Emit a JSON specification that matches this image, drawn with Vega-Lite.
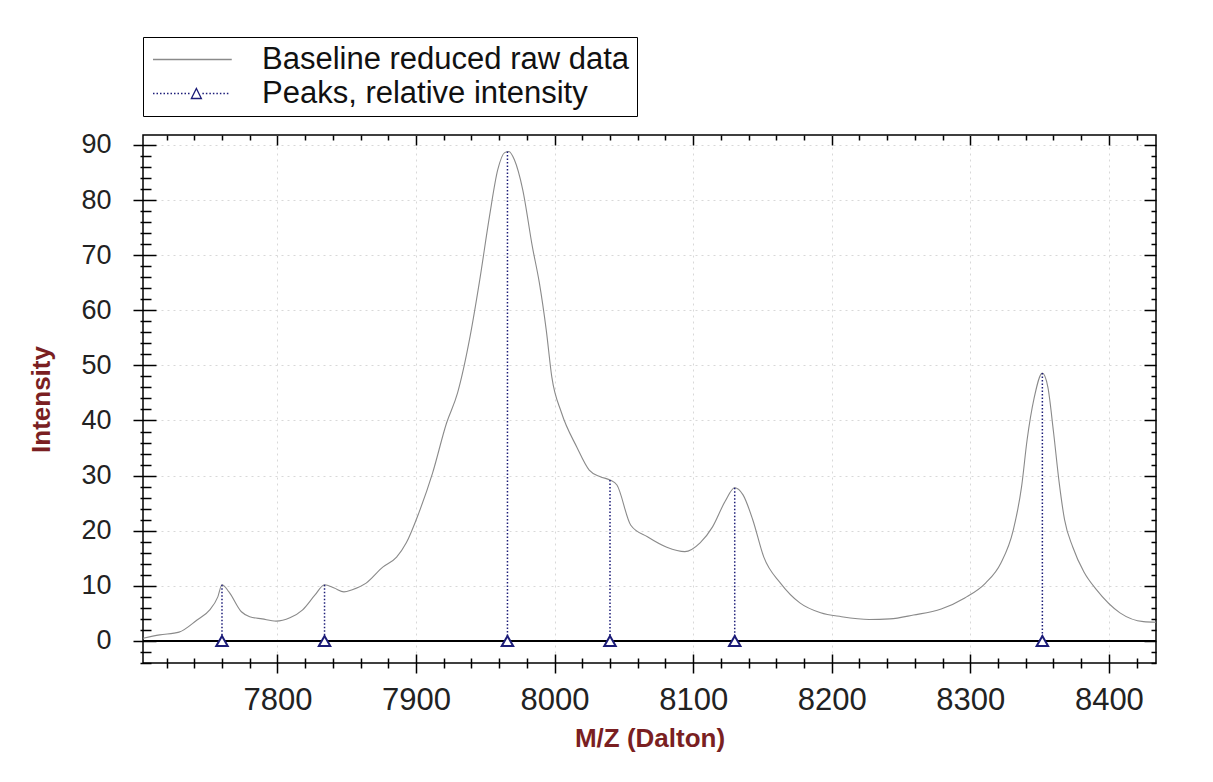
{
  "$schema": "https://vega.github.io/schema/vega-lite/v6.json",
  "width": 1013,
  "height": 528,
  "autosize": {"type": "none"},
  "padding": {"left": 143, "top": 135, "right": 57, "bottom": 119},
  "background": "white",
  "config": {
    "view": {"stroke": "black", "strokeWidth": 1.5},
    "axis": {"domain": false, "labelFont": "Liberation Sans", "labelColor": "#222", "tickColor": "black", "tickWidth": 1.5, "titleFont": "Liberation Sans", "titleColor": "#7a1f22", "titleFontWeight": "bold", "grid": false},
    "legend": {"labelFont": "Liberation Sans", "labelFontSize": 31, "labelColor": "#111"}
  },
  "datasets": {
    "spectrum": [
      {"mz": 7703, "intensity": 0.5}, {"mz": 7715, "intensity": 1.1}, {"mz": 7729, "intensity": 1.6},
      {"mz": 7742, "intensity": 3.8}, {"mz": 7751, "intensity": 5.6}, {"mz": 7757, "intensity": 8.0},
      {"mz": 7760, "intensity": 10.2}, {"mz": 7765, "intensity": 8.9}, {"mz": 7774, "intensity": 5.3},
      {"mz": 7780, "intensity": 4.4}, {"mz": 7789, "intensity": 4.0}, {"mz": 7799, "intensity": 3.6},
      {"mz": 7809, "intensity": 4.2}, {"mz": 7818, "intensity": 5.6}, {"mz": 7827, "intensity": 8.3},
      {"mz": 7834, "intensity": 10.2}, {"mz": 7841, "intensity": 9.6}, {"mz": 7848, "intensity": 8.9},
      {"mz": 7854, "intensity": 9.3}, {"mz": 7864, "intensity": 10.5}, {"mz": 7876, "intensity": 13.4},
      {"mz": 7886, "intensity": 15.2}, {"mz": 7893, "intensity": 17.8}, {"mz": 7902, "intensity": 23.2},
      {"mz": 7912, "intensity": 30.5}, {"mz": 7922, "intensity": 39.5}, {"mz": 7930, "intensity": 45.0},
      {"mz": 7939, "intensity": 55.2}, {"mz": 7946, "intensity": 65.5}, {"mz": 7953, "intensity": 77.0},
      {"mz": 7959, "intensity": 85.5}, {"mz": 7964, "intensity": 88.6}, {"mz": 7967, "intensity": 88.8},
      {"mz": 7971, "intensity": 87.3}, {"mz": 7977, "intensity": 81.9}, {"mz": 7984, "intensity": 71.5},
      {"mz": 7989, "intensity": 65.0}, {"mz": 7994, "intensity": 56.4}, {"mz": 7998, "intensity": 47.9},
      {"mz": 8005, "intensity": 41.4}, {"mz": 8016, "intensity": 35.2}, {"mz": 8025, "intensity": 31.0},
      {"mz": 8033, "intensity": 29.8}, {"mz": 8040, "intensity": 29.2}, {"mz": 8045, "intensity": 28.3},
      {"mz": 8055, "intensity": 21.0}, {"mz": 8067, "intensity": 18.9}, {"mz": 8081, "intensity": 17.0},
      {"mz": 8094, "intensity": 16.2}, {"mz": 8105, "intensity": 17.8}, {"mz": 8114, "intensity": 20.7},
      {"mz": 8123, "intensity": 25.3}, {"mz": 8130, "intensity": 27.8}, {"mz": 8136, "intensity": 26.5},
      {"mz": 8143, "intensity": 22.0}, {"mz": 8151, "intensity": 15.2}, {"mz": 8163, "intensity": 10.5},
      {"mz": 8177, "intensity": 6.9}, {"mz": 8192, "intensity": 5.1}, {"mz": 8207, "intensity": 4.4},
      {"mz": 8227, "intensity": 3.9}, {"mz": 8242, "intensity": 4.0}, {"mz": 8259, "intensity": 4.7},
      {"mz": 8279, "intensity": 5.8}, {"mz": 8296, "intensity": 7.8}, {"mz": 8311, "intensity": 10.5},
      {"mz": 8322, "intensity": 14.1}, {"mz": 8331, "intensity": 20.1}, {"mz": 8337, "intensity": 28.0},
      {"mz": 8341, "intensity": 36.5}, {"mz": 8346, "intensity": 44.0}, {"mz": 8352, "intensity": 48.6},
      {"mz": 8356, "intensity": 46.0}, {"mz": 8360, "intensity": 38.0}, {"mz": 8364, "intensity": 29.0},
      {"mz": 8368, "intensity": 22.0}, {"mz": 8374, "intensity": 17.0}, {"mz": 8382, "intensity": 12.5},
      {"mz": 8391, "intensity": 9.3}, {"mz": 8408, "intensity": 5.1},
      {"mz": 8425, "intensity": 3.5}, {"mz": 8434, "intensity": 3.4}
    ],
    "peaks": [
      {"mz": 7760, "intensity": 10.2}, {"mz": 7834, "intensity": 10.2}, {"mz": 7966, "intensity": 88.8},
      {"mz": 8040, "intensity": 29.2}, {"mz": 8130, "intensity": 27.8}, {"mz": 8352, "intensity": 48.6}
    ]
  },
  "resolve": {"axis": {"x": "independent", "y": "independent"}},
  "layer": [
    {
      "data": {"name": "spectrum"},
      "mark": {"type": "line", "strokeWidth": 1.1, "clip": true, "interpolate": "monotone"},
      "encoding": {
        "x": {"field": "mz", "type": "quantitative",
          "scale": {"domain": [7703, 8434], "nice": false, "zero": false},
          "axis": {"orient": "bottom", "values": [7800, 7900, 8000, 8100, 8200, 8300, 8400], "offset": -9, "tickSize": 19,
            "labelFontSize": 31, "labelPadding": 12, "format": "d",
            "grid": true, "gridColor": "#d8d8d8", "gridDash": [2, 4], "gridWidth": 1,
            "title": "M/Z (Dalton)", "titleFontSize": 26, "titlePadding": 10}},
        "y": {"field": "intensity", "type": "quantitative",
          "scale": {"domain": [-4, 91.8], "nice": false, "zero": false},
          "axis": {"orient": "left", "values": [0, 10, 20, 30, 40, 50, 60, 70, 80, 90], "offset": -13, "tickSize": 23,
            "labelFontSize": 27, "labelPadding": 22,
            "grid": true, "gridColor": "#d8d8d8", "gridDash": [2, 4], "gridWidth": 1,
            "title": "Intensity", "titleFontSize": 26, "titlePadding": 26}},
        "color": {"datum": "Baseline reduced raw data", "type": "nominal",
          "scale": {"domain": ["Baseline reduced raw data", "Peaks, relative intensity"], "range": ["#8a8a8a", "#1c1c78"]},
          "legend": {"orient": "none", "legendX": 0, "legendY": -98, "title": null,
            "strokeColor": "black", "fillColor": "white", "padding": 7,
            "symbolSize": 625, "symbolStrokeWidth": 1.3, "labelOffset": 81, "rowPadding": 2, "labelLimit": 800,
            "encode": {"symbols": {"update": {
              "shape": {"signal": "datum.value === 'Peaks, relative intensity' ? 'M-1,0h0.12m0.16,0h0.12m0.16,0h0.12m0.16,0h0.12m0.16,0h0.12m0.16,0h0.12m0.16,0h0.12m0.16,0h0.12m0.16,0h0.12m0.16,0h0.12m0.16,0h0.12m0.16,0M2.95,0h0.12m0.16,0h0.12m0.16,0h0.12m0.16,0h0.12m0.16,0h0.12m0.16,0h0.12m0.16,0h0.12m0.16,0h0.12m0.16,0M2.07,0.4L2.47,-0.4L2.87,0.4Z' : 'M-1,0H5.3'"},
              "fill": {"value": "white"},
              "size": {"value": 625}}}}}}
      }
    },
    {
      "data": {"name": "peaks"},
      "mark": {"type": "rule", "color": "#1c1c78", "strokeDash": [1.5, 2], "strokeWidth": 1.5},
      "encoding": {
        "x": {"field": "mz", "type": "quantitative",
          "axis": {"orient": "bottom", "values": [7720, 7740, 7760, 7780, 7820, 7840, 7860, 7880, 7920, 7940, 7960, 7980, 8020, 8040, 8060, 8080, 8120, 8140, 8160, 8180, 8220, 8240, 8260, 8280, 8320, 8340, 8360, 8380, 8420],
            "offset": -5, "tickSize": 10, "labels": false, "title": null}},
        "y": {"field": "intensity", "type": "quantitative",
          "axis": {"orient": "left", "values": [-4, -2, 2, 4, 6, 8, 12, 14, 16, 18, 22, 24, 26, 28, 32, 34, 36, 38, 42, 44, 46, 48, 52, 54, 56, 58, 62, 64, 66, 68, 72, 74, 76, 78, 82, 84, 86, 88],
            "offset": -8, "tickSize": 11, "labels": false, "title": null}},
        "y2": {"datum": 0},
        "color": {"datum": "Peaks, relative intensity", "type": "nominal"}
      }
    },
    {
      "data": {"name": "peaks"},
      "mark": {"type": "rule", "color": "black", "strokeWidth": 1.5},
      "encoding": {
        "y": {"datum": 0, "type": "quantitative", "axis": null}
      }
    },
    {
      "data": {"name": "peaks"},
      "mark": {"type": "point", "shape": "triangle-up", "size": 130, "filled": true, "fill": "white", "stroke": "#1c1c78", "strokeWidth": 2, "opacity": 1},
      "encoding": {
        "x": {"field": "mz", "type": "quantitative",
          "axis": {"orient": "top", "values": [7720, 7740, 7760, 7780, 7800, 7820, 7840, 7860, 7880, 7900, 7920, 7940, 7960, 7980, 8000, 8020, 8040, 8060, 8080, 8100, 8120, 8140, 8160, 8180, 8200, 8220, 8240, 8260, 8280, 8300, 8320, 8340, 8360, 8380, 8400, 8420],
            "tickSize": {"condition": {"test": "datum.value % 100 === 0", "value": -10}, "value": -5}, "labels": false, "title": null}},
        "y": {"datum": 0, "type": "quantitative",
          "axis": {"orient": "right", "values": [-4, -2, 0, 2, 4, 6, 8, 10, 12, 14, 16, 18, 20, 22, 24, 26, 28, 30, 32, 34, 36, 38, 40, 42, 44, 46, 48, 50, 52, 54, 56, 58, 60, 62, 64, 66, 68, 70, 72, 74, 76, 78, 80, 82, 84, 86, 88, 90],
            "tickSize": {"condition": {"test": "datum.value % 10 === 0", "value": -12}, "value": -5}, "labels": false, "title": null}}
      }
    }
  ]
}
